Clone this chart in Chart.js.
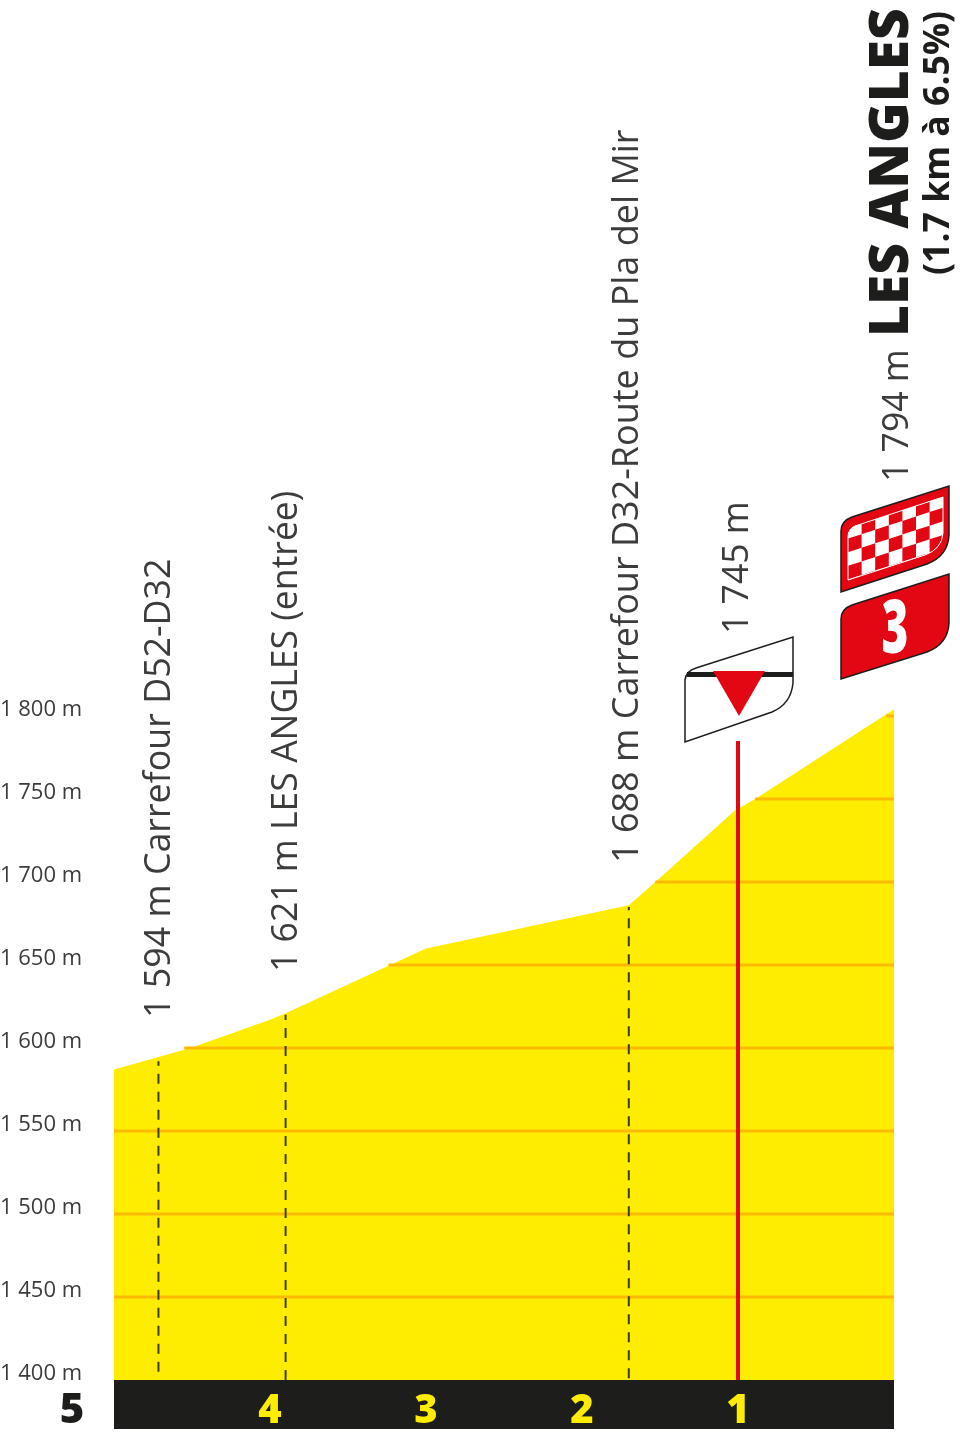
<!DOCTYPE html>
<html>
<head>
<meta charset="utf-8">
<title>Les Angles</title>
<script src="https://cdn.jsdelivr.net/npm/chart.js@4"></script>
<style>
  body { margin: 0; background: #fff; }
  canvas { display: block; }
</style>
</head>
<body>
<canvas id="profile" width="960" height="1437"></canvas>
<script>
// km to go / altitude
const profileKm = [5, 4.51, 4, 3.9, 3.23, 3, 1.7, 1.53, 1.02, 0.89, 0];
const profileAlt = [1587, 1600, 1617, 1621, 1650, 1660, 1686, 1700, 1743, 1750, 1804];

const altTicks = [1400, 1450, 1500, 1550, 1600, 1650, 1700, 1750, 1800];
const altTickLabels = ['1 400 m', '1 450 m', '1 500 m', '1 550 m', '1 600 m', '1 650 m', '1 700 m', '1 750 m', '1 800 m'];
const kmTicks = [4, 3, 2, 1];

// orange level lines: altitude and km where each one starts
const levelAlts = [1450, 1500, 1550, 1600, 1650, 1700, 1750, 1800];
const levelStartKm = [5, 5, 5, 4.55, 3.24, 1.53, 0.89, 0.05];

// dashed markers
const markerKm = [4.715, 3.9, 1.7];
const markerBase = [1405, 1400, 1401];
const markerTop = [1592, 1620, 1685];

const summitKm = [1];
const summitLineTop = [1785];

const YELLOW = '#ffed00';
const RED = '#e30613';
const DARK = '#1d1d1b';
const TEXT = '#3c3c3b';
const FONT = '"Open Sans"';

const datasets = [];

datasets.push({
  data: [{ x: summitKm[0], y: 1400 }, { x: summitKm[0], y: summitLineTop[0] }],
  borderColor: RED, borderWidth: 4, pointRadius: 0, order: 1
});

markerKm.forEach((km, i) => {
  datasets.push({
    data: [{ x: km, y: markerBase[i] }, { x: km, y: markerTop[i] }],
    borderColor: '#3c3c1b', borderWidth: 2, borderDash: [10, 8], pointRadius: 0, order: 2
  });
});

levelAlts.forEach((alt, i) => {
  datasets.push({
    data: [{ x: levelStartKm[i], y: alt }, { x: 0, y: alt }],
    borderColor: '#fbba00', borderWidth: 3, pointRadius: 0, order: 3
  });
});

datasets.push({
  data: profileKm.map((km, i) => ({ x: km, y: profileAlt[i] })),
  borderWidth: 0, pointRadius: 0, tension: 0,
  backgroundColor: YELLOW, fill: 'start', order: 4
});

// vertical text, x is the baseline, y where the text starts
function vText(ctx, text, x, y, font, color) {
  ctx.save();
  ctx.translate(x, y);
  ctx.rotate(-Math.PI / 2);
  ctx.font = font;
  ctx.fillStyle = color;
  ctx.textAlign = 'left';
  ctx.textBaseline = 'alphabetic';
  ctx.fillText(text, 0, 0);
  ctx.restore();
}

function signPath(ctx, x0, x1, y0, sag) {
  // slanted plate, y0 = top right corner
  ctx.beginPath();
  ctx.moveTo(x1, y0);
  ctx.lineTo(x1, y0 + 49);
  ctx.quadraticCurveTo(x1 - 1, y0 + 70, x1 - 22, y0 + 78);
  ctx.lineTo(x0, y0 + sag);
  ctx.lineTo(x0, y0 + 45);
  ctx.quadraticCurveTo(x0, y0 + 35, x0 + 11, y0 + 31);
  ctx.closePath();
}

function checkerInnerPath(ctx) {
  ctx.beginPath();
  ctx.moveTo(943, 497);
  ctx.lineTo(943, 533);
  ctx.quadraticCurveTo(942, 549, 925, 555);
  ctx.lineTo(848, 580);
  ctx.lineTo(848, 537);
  ctx.quadraticCurveTo(848, 529, 855, 526);
  ctx.closePath();
}

function drawCheckerSign(ctx) {
  signPath(ctx, 841, 949, 486, 106);
  ctx.fillStyle = RED;
  ctx.fill();
  ctx.strokeStyle = DARK;
  ctx.lineWidth = 1.5;
  ctx.stroke();

  ctx.save();
  checkerInnerPath(ctx);
  ctx.fillStyle = '#fff';
  ctx.fill();
  ctx.clip();
  ctx.transform(1, -0.325, 0, 1, 848, 527);
  const size = 13.6;
  ctx.fillStyle = RED;
  for (let c = 0; c < 7; c++) {
    for (let r = -1; r < 5; r++) {
      if ((c + r + 2) % 2 === 1) ctx.fillRect(c * size, r * size - 2, size, size);
    }
  }
  ctx.restore();

  checkerInnerPath(ctx);
  ctx.strokeStyle = '#fff';
  ctx.lineWidth = 1;
  ctx.stroke();
}

function drawClimbSign(ctx) {
  signPath(ctx, 841, 949, 574, 105);
  ctx.fillStyle = RED;
  ctx.fill();
  ctx.strokeStyle = DARK;
  ctx.lineWidth = 1.5;
  ctx.stroke();
  ctx.save();
  ctx.translate(895, 653);
  ctx.scale(0.62, 1);
  ctx.font = '800 74px ' + FONT;
  ctx.fillStyle = '#fff';
  ctx.textAlign = 'center';
  ctx.fillText('3', 0, 0);
  ctx.restore();
}

function drawFlammeRouge(ctx) {
  ctx.beginPath();
  ctx.moveTo(793, 637);
  ctx.lineTo(793, 683);
  ctx.quadraticCurveTo(791, 704, 772, 712);
  ctx.lineTo(685, 742);
  ctx.lineTo(685, 680);
  ctx.quadraticCurveTo(686, 671, 696, 668);
  ctx.closePath();
  ctx.fillStyle = '#fff';
  ctx.fill();
  ctx.strokeStyle = DARK;
  ctx.lineWidth = 1.5;
  ctx.stroke();
  ctx.fillStyle = DARK;
  ctx.fillRect(687, 672, 106, 5);
  ctx.beginPath();
  ctx.moveTo(713, 671);
  ctx.lineTo(765, 671);
  ctx.lineTo(739, 716);
  ctx.closePath();
  ctx.fillStyle = RED;
  ctx.fill();
}

const annotations = {
  id: 'annotations',
  afterDraw(chart) {
    const ctx = chart.ctx;
    vText(ctx, '1 594 m Carrefour D52-D32', 170, 1018, '400 35.8px ' + FONT, TEXT);
    vText(ctx, '1 621 m LES ANGLES (entrée)', 297, 972, '400 35.6px ' + FONT, TEXT);
    vText(ctx, '1 688 m Carrefour D32-Route du Pla del Mir', 638, 863, '400 36px ' + FONT, TEXT);
    vText(ctx, '1 745 m', 748, 634, '400 35.6px ' + FONT, TEXT);
    vText(ctx, '1 794 m', 908, 482, '400 35.6px ' + FONT, TEXT);
    vText(ctx, 'LES ANGLES', 908, 337, '800 55px ' + FONT, DARK);
    vText(ctx, '(1.7 km à 6.5%)', 949, 275, '700 35.6px ' + FONT, DARK);

    ctx.save();
    ctx.font = '800 42px ' + FONT;
    ctx.fillStyle = DARK;
    ctx.textAlign = 'center';
    ctx.fillText('5', 72, 1423);
    ctx.restore();

    drawFlammeRouge(ctx);
    drawCheckerSign(ctx);
    drawClimbSign(ctx);
  }
};

new Chart(document.getElementById('profile'), {
  type: 'line',
  data: { datasets },
  plugins: [annotations],
  options: {
    responsive: false,
    animation: false,
    devicePixelRatio: 1,
    layout: { padding: { top: 682.8, right: 66, bottom: 8, left: 0 } },
    plugins: { legend: { display: false }, tooltip: { enabled: false } },
    scales: {
      x: {
        type: 'linear',
        reverse: true,
        min: 0,
        max: 5,
        backgroundColor: DARK,
        grid: { display: false },
        border: { display: false },
        afterBuildTicks: scale => { scale.ticks = kmTicks.map(v => ({ value: v })); },
        afterFit: scale => { scale.height = 49; },
        ticks: {
          color: YELLOW,
          padding: 0,
          maxRotation: 0,
          autoSkip: false,
          font: { family: 'Open Sans', size: 40, weight: '800' },
          callback: v => String(v)
        }
      },
      y: {
        type: 'linear',
        min: 1400,
        max: 1820,
        grid: { display: false },
        border: { display: false },
        afterBuildTicks: scale => { scale.ticks = altTicks.map(v => ({ value: v })); },
        afterFit: scale => { scale.width = 114; },
        ticks: {
          color: TEXT,
          autoSkip: false,
          crossAlign: 'far',
          labelOffset: -6,
          font: { family: 'Open Sans', size: 22 },
          callback: v => altTickLabels[altTicks.indexOf(v)]
        }
      }
    }
  }
});
</script>
</body>
</html>
